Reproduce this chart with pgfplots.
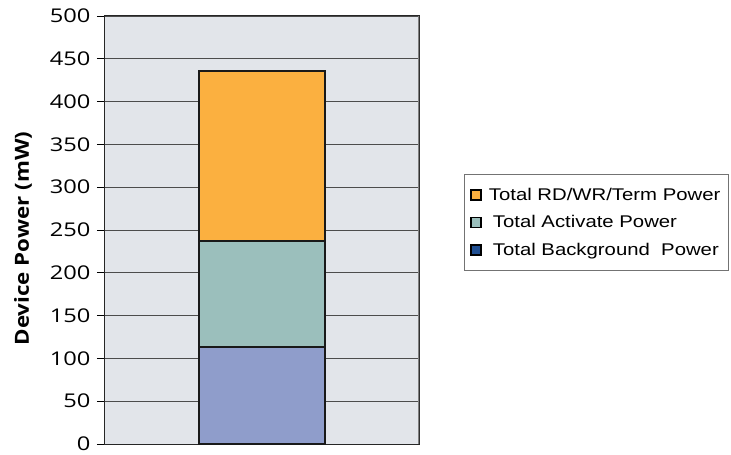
\documentclass[border=0pt]{standalone}
\usepackage{fontspec}
\usepackage{pgfplots}
\pgfplotsset{compat=1.18}
\usetikzlibrary{calc}
\setmainfont{Open Sans}
\newfontfamily\tickfont[FakeStretch=1.25]{Open Sans}
\newfontfamily\labfont[FakeStretch=1.15]{Open Sans}
\newfontfamily\legfont[FakeStretch=1.2]{Liberation Sans}

\definecolor{cOrange}{HTML}{FBB040}
\definecolor{cTeal}{HTML}{9BBFBC}
\definecolor{cLilac}{HTML}{8F9DCB}
\definecolor{cBlue}{HTML}{1F4E91}
\definecolor{cBack}{HTML}{E2E5EA}

\begin{document}
\begin{tikzpicture}
\begin{axis}[
  scale only axis, width=314bp, height=428bp,
  ybar stacked, bar width=126bp,
  xmin=-1, xmax=1, ymin=0, ymax=500,
  xtick=\empty, ytick={0,50,...,500}, ytick pos=left,
  /pgf/number format/assume math mode=true,
  yticklabel style={font=\fontsize{19}{22}\tickfont, xshift=-3bp},
  tick align=outside, major tick length=8bp,
  ytick style={black, line width=0.8bp},
  axis background/.style={fill=cBack},
  axis line style={black!85, line width=1bp},
  ymajorgrids, grid style={black!70, line width=0.9bp},
  ylabel={\bfseries Device Power (mW)},
  ylabel style={font=\fontsize{19.5}{22}\labfont,
    at={($(rel axis cs:0,0.48)+(-82bp,0)$)}, anchor=center},
  legend style={at={(rel axis cs:1.143,0.631)}, anchor=north west,
    draw=black!55, line width=0.8bp, fill=white,
    font=\fontsize{17}{20}\legfont, row sep=9.5bp,
    inner xsep=6bp, inner ysep=12bp, cells={anchor=west}},
  legend image code/.code={\draw[#1, draw=black, line width=1.6bp] (0bp,-5bp) rectangle (10bp,5bp);},
]
\addplot[fill=cLilac, draw=black!90, line width=1.8bp, forget plot] coordinates {(0,113)};
\addplot[fill=cTeal, draw=black!90, line width=1.8bp, forget plot] coordinates {(0,124)};
\addplot[fill=cOrange, draw=black!90, line width=1.8bp, forget plot] coordinates {(0,199)};
\addlegendimage{fill=cOrange}
\addlegendentry{\hspace{5bp}Total RD/WR/Term Power}
\addlegendimage{fill=cTeal}
\addlegendentry{\hspace{9bp}Total Activate Power}
\addlegendimage{fill=cBlue}
\addlegendentry{\hspace{9bp}Total Background\ \ Power}
\draw[black!50, line width=2bp] (rel axis cs:1,0) -- (rel axis cs:1,1);
\end{axis}
\path (current axis.south west) ++(-105bp,-10bp) rectangle ++(731bp,454bp);
\end{tikzpicture}
\end{document}
